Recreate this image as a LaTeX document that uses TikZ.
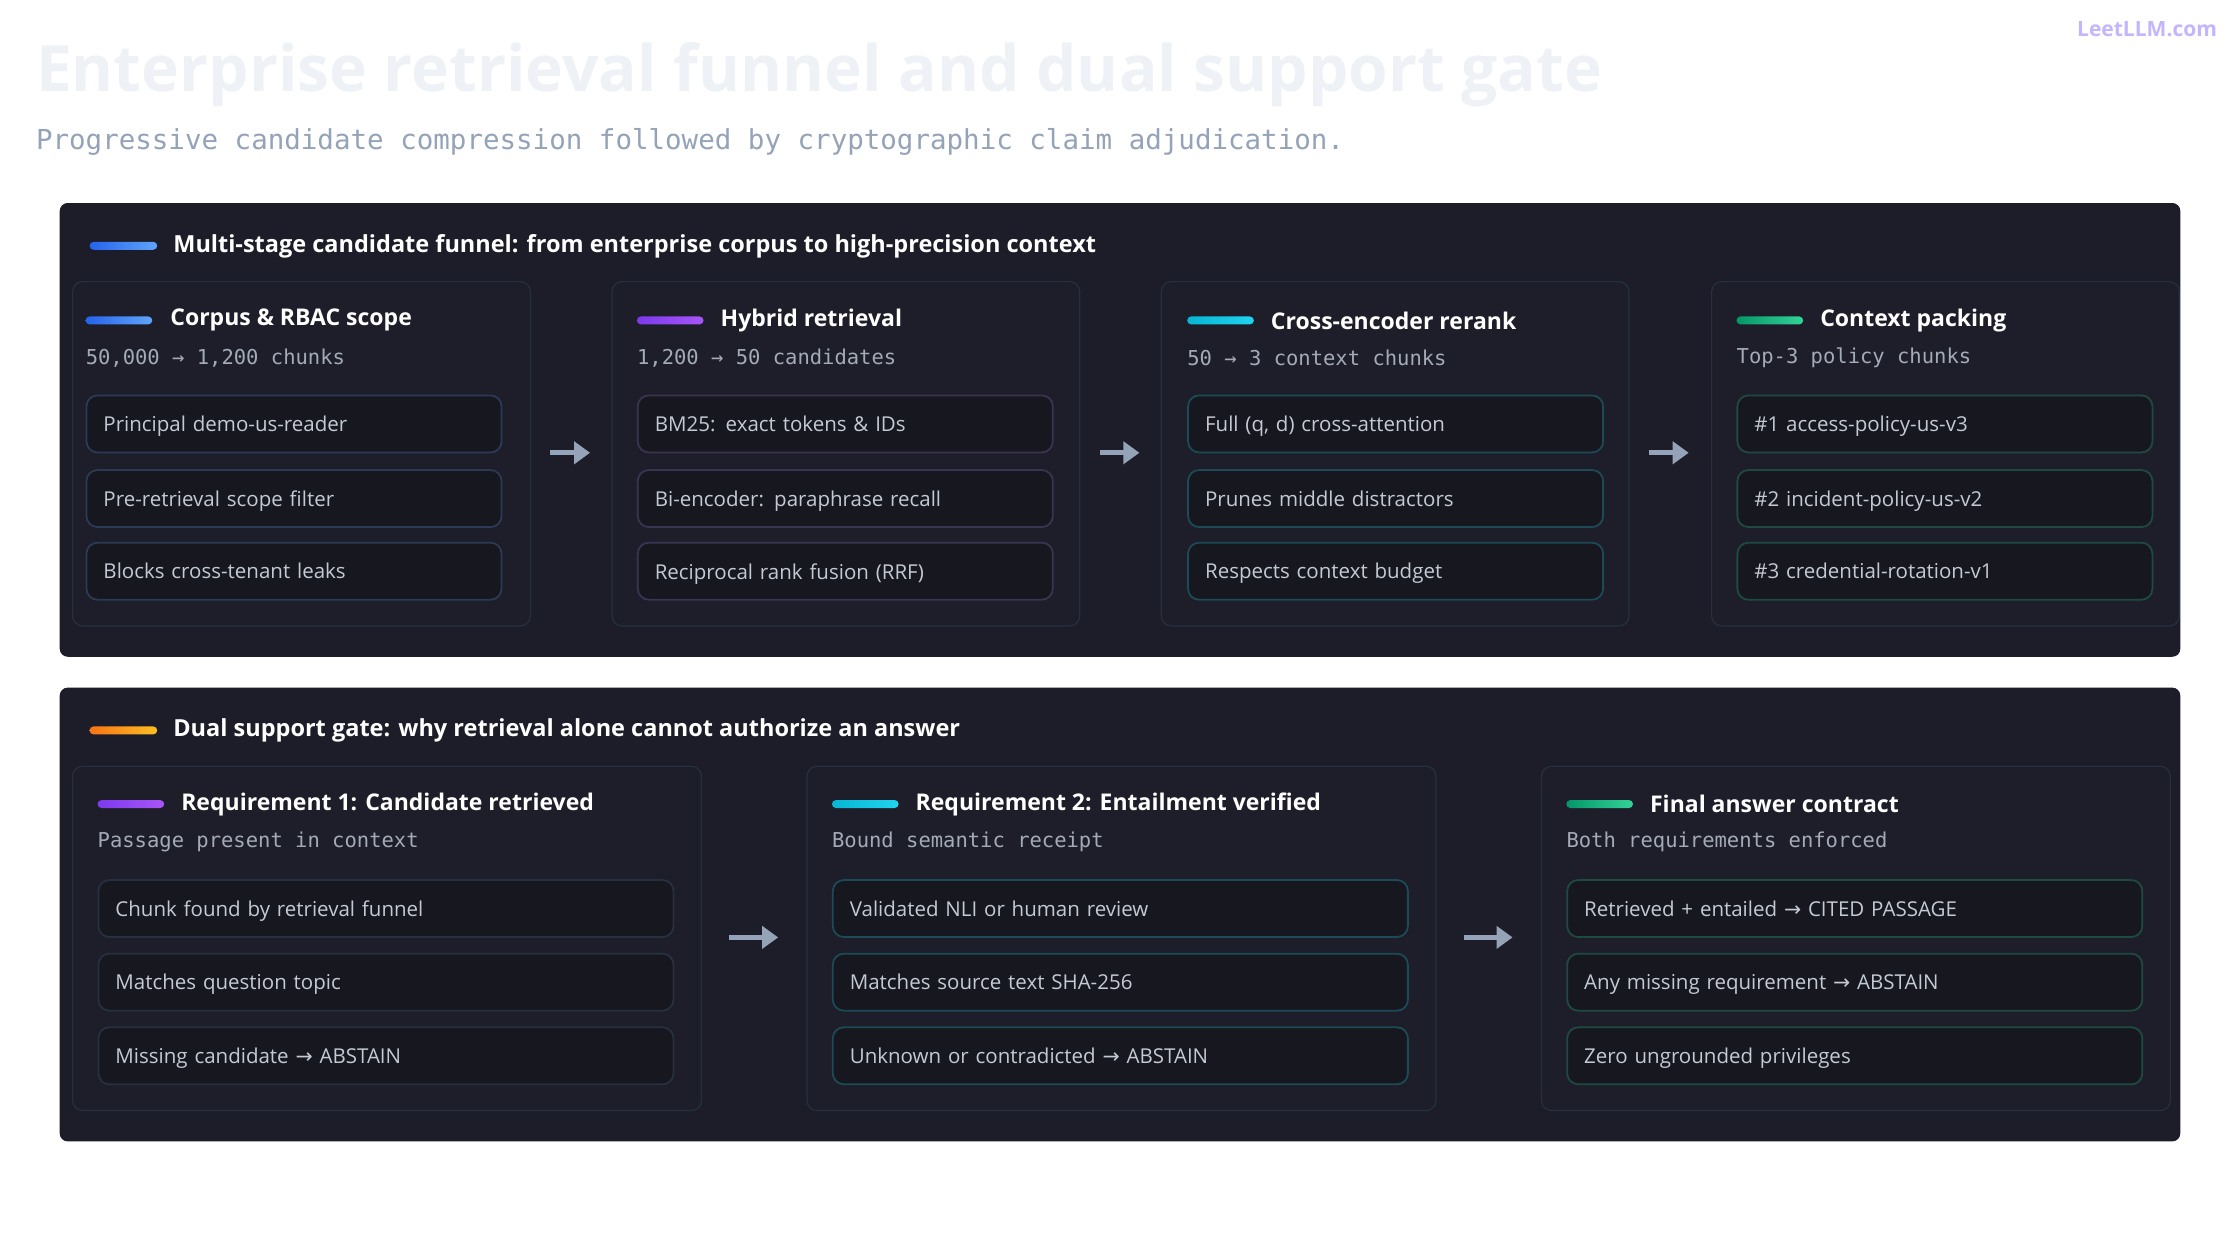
\documentclass[tikz,border=0pt]{standalone}
\usepackage{fontspec}
\setmainfont{Open Sans}
\setmonofont{DejaVu Sans Mono}
\newfontfamily\arrowfont{DejaVu Sans}
\usetikzlibrary{positioning,arrows.meta}
\newcommand{\tofar}{{\arrowfont →}}
\definecolor{pagebg}{HTML}{FFFFFF}
\definecolor{panelbg}{HTML}{1C1D28}
\definecolor{cardbg}{HTML}{1D1E29}
\definecolor{cardline}{HTML}{26303F}
\definecolor{itembg}{HTML}{16171F}
\definecolor{itemtext}{HTML}{C4CAD4}
\definecolor{subtext}{HTML}{A3AAB8}
\definecolor{titletext}{HTML}{EEF2F7}
\definecolor{subtitletext}{HTML}{94A3B8}
\definecolor{arrowgray}{HTML}{94A3B8}
\definecolor{logotext}{HTML}{C4B5FD}
\definecolor{blueA}{HTML}{2563EB}\definecolor{blueB}{HTML}{60A5FA}
\definecolor{purpA}{HTML}{7C3AED}\definecolor{purpB}{HTML}{A855F7}
\definecolor{cyanA}{HTML}{06B6D4}\definecolor{cyanB}{HTML}{22D3EE}
\definecolor{greenA}{HTML}{059669}\definecolor{greenB}{HTML}{34D399}
\definecolor{orangeA}{HTML}{F97316}\definecolor{orangeB}{HTML}{FBBF24}
\definecolor{blueline}{HTML}{2B3A55}
\definecolor{purpline}{HTML}{3B3352}
\definecolor{cyanline}{HTML}{1C4A56}
\definecolor{greenline}{HTML}{1F4A40}
\begin{document}
\begin{tikzpicture}[x=0.995pt,y=-0.995pt]

% definitions
\tikzstyle{panel} = [fill=panelbg, rounded corners=8pt]
\tikzstyle{card} = [fill=cardbg, draw=cardline, line width=1.2pt, rounded corners=10pt]
\tikzstyle{item} = [rectangle, rounded corners=11pt, fill=itembg, line width=1.8pt, minimum height=57pt, inner xsep=17pt, anchor=west, text=itemtext, font=\fontsize{20.5}{25}\selectfont, align=left, text depth=0pt]
\tikzstyle{cardtitle} = [anchor=west, inner sep=0pt, text=white, font=\fontsize{23}{28}\selectfont\bfseries]
\tikzstyle{cardsub} = [anchor=west, inner sep=0pt, text=subtext, font=\ttfamily\fontsize{20.5}{24}\selectfont]
\tikzstyle{header} = [anchor=west, inner sep=0pt, text=white, font=\fontsize{23.5}{28}\selectfont\bfseries]
\tikzstyle{arrow} = [-{Triangle[length=16pt,width=22pt]}, line width=5pt, draw=arrowgray]

\useasboundingbox[fill=pagebg] (0,0) rectangle (2251,1246);

% heading
\node (title) [anchor=west, inner sep=0pt, text=titletext, font=\fontsize{64}{70}\selectfont\bfseries] at (36,75) {Enterprise retrieval funnel and dual support gate};
\node (subtitle) [anchor=west, inner sep=0pt, text=subtitletext, font=\ttfamily\fontsize{27.5}{30}\selectfont] at (36,143) {Progressive candidate compression followed by cryptographic claim adjudication.};
\node (logo) [anchor=east, inner sep=0pt, text=logotext, font=\fontsize{21}{26}\selectfont\bfseries] at (2228,29) {LeetLLM.com};

% the funnel
\fill[panel] (60,204) rectangle (2191,660);
\shade[left color=blueA, right color=blueB, rounded corners=4pt] (90,243) rectangle (158,251);
\node (h1) [header] at (174,248) {Multi-stage candidate funnel: from enterprise corpus to high-precision context};

\draw[card] (73,283) rectangle (533,629);
\shade[left color=blueA, right color=blueB, rounded corners=4pt] (86,318) rectangle (153,326);
\node (t1) [cardtitle] at (171,322) {Corpus \& RBAC scope};
\node (s1) [cardsub] at (86,360) {50,000 → 1,200 chunks};
\node (a1) [item, draw=blueline, text width=381pt] at (86,426) {Principal demo-us-reader};
\node (a2) [item, draw=blueline, text width=381pt] at (86,501) {Pre-retrieval scope filter};
\node (a3) [item, draw=blueline, text width=381pt] at (86,574) {Blocks cross-tenant leaks};

\draw[card] (615,283) rectangle (1085,629);
\shade[left color=purpA, right color=purpB, rounded corners=4pt] (640,318) rectangle (707,326);
\node (t2) [cardtitle] at (724,322) {Hybrid retrieval};
\node (s2) [cardsub] at (640,360) {1,200 → 50 candidates};
\node (b1) [item, draw=purpline, text width=381pt] at (640,426) {BM25: exact tokens \& IDs};
\node (b2) [item, draw=purpline, text width=381pt] at (640,501) {Bi-encoder: paraphrase recall};
\node (b3) [item, draw=purpline, text width=381pt] at (640,574) {Reciprocal rank fusion (RRF)};

\draw[card] (1167,283) rectangle (1637,629);
\shade[left color=cyanA, right color=cyanB, rounded corners=4pt] (1193,318) rectangle (1260,326);
\node (t3) [cardtitle] at (1277,322) {Cross-encoder rerank};
\node (s3) [cardsub] at (1193,360) {50 → 3 context chunks};
\node (c1) [item, draw=cyanline, text width=381pt] at (1193,426) {Full (q, d) cross-attention};
\node (c2) [item, draw=cyanline, text width=381pt] at (1193,501) {Prunes middle distractors};
\node (c3) [item, draw=cyanline, text width=381pt] at (1193,574) {Respects context budget};

\draw[card] (1720,283) rectangle (2190,629);
\shade[left color=greenA, right color=greenB, rounded corners=4pt] (1745,318) rectangle (1812,326);
\node (t4) [cardtitle] at (1829,322) {Context packing};
\node (s4) [cardsub] at (1745,360) {Top-3 policy chunks};
\node (d1) [item, draw=greenline, text width=381pt] at (1745,426) {\#1 access-policy-us-v3};
\node (d2) [item, draw=greenline, text width=381pt] at (1745,501) {\#2 incident-policy-us-v2};
\node (d3) [item, draw=greenline, text width=381pt] at (1745,574) {\#3 credential-rotation-v1};

\coordinate (p1) at (553,455); \coordinate (q1) at (593,455);
\coordinate (p2) at (1105,455); \coordinate (q2) at (1145,455);
\coordinate (p3) at (1657,455); \coordinate (q3) at (1697,455);
\draw [arrow] (p1) -- (q1);
\draw [arrow] (p2) -- (q2);
\draw [arrow] (p3) -- (q3);

% the gate
\fill[panel] (60,691) rectangle (2191,1147);
\shade[left color=orangeA, right color=orangeB, rounded corners=4pt] (90,730) rectangle (158,738);
\node (h2) [header] at (174,734) {Dual support gate: why retrieval alone cannot authorize an answer};

\draw[card] (73,770) rectangle (705,1116);
\shade[left color=purpA, right color=purpB, rounded corners=4pt] (98,804) rectangle (165,812);
\node (g1) [cardtitle] at (182,808) {Requirement 1: Candidate retrieved};
\node (r1) [cardsub] at (98,846) {Passage present in context};
\node (e1) [item, draw=cardline, text width=541pt] at (98,913) {Chunk found by retrieval funnel};
\node (e2) [item, draw=cardline, text width=541pt] at (98,987) {Matches question topic};
\node (e3) [item, draw=cardline, text width=541pt] at (98,1061) {Missing candidate \tofar{} ABSTAIN};

\draw[card] (811,770) rectangle (1443,1116);
\shade[left color=cyanA, right color=cyanB, rounded corners=4pt] (836,804) rectangle (903,812);
\node (g2) [cardtitle] at (920,808) {Requirement 2: Entailment verified};
\node (r2) [cardsub] at (836,846) {Bound semantic receipt};
\node (f1) [item, draw=cyanline, text width=541pt] at (836,913) {Validated NLI or human review};
\node (f2) [item, draw=cyanline, text width=541pt] at (836,987) {Matches source text SHA-256};
\node (f3) [item, draw=cyanline, text width=541pt] at (836,1061) {Unknown or contradicted \tofar{} ABSTAIN};

\draw[card] (1549,770) rectangle (2181,1116);
\shade[left color=greenA, right color=greenB, rounded corners=4pt] (1574,804) rectangle (1641,812);
\node (g3) [cardtitle] at (1658,808) {Final answer contract};
\node (r3) [cardsub] at (1574,846) {Both requirements enforced};
\node (k1) [item, draw=greenline, text width=541pt] at (1574,913) {Retrieved + entailed \tofar{} CITED PASSAGE};
\node (k2) [item, draw=greenline, text width=541pt] at (1574,987) {Any missing requirement \tofar{} ABSTAIN};
\node (k3) [item, draw=greenline, text width=541pt] at (1574,1061) {Zero ungrounded privileges};

\coordinate (p4) at (733,942); \coordinate (q4) at (782,942);
\coordinate (p5) at (1471,942); \coordinate (q5) at (1520,942);
\draw [arrow] (p4) -- (q4);
\draw [arrow] (p5) -- (q5);

\end{tikzpicture}
\end{document}
